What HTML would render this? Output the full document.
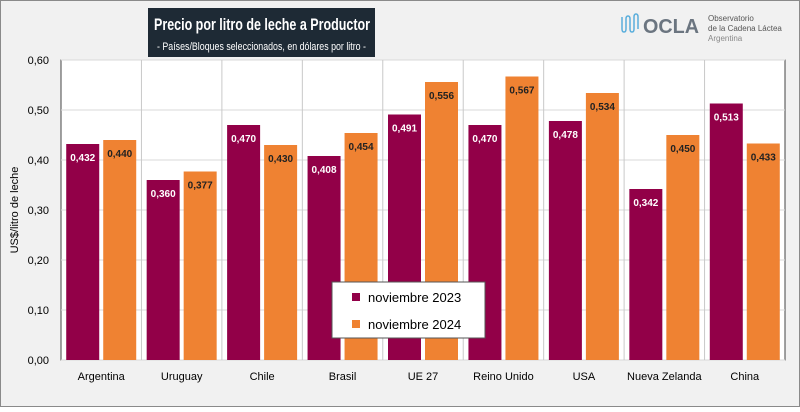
<!DOCTYPE html>
<html><head><meta charset="utf-8"><style>
body{margin:0;width:800px;height:407px;overflow:hidden;background:#fff;font-family:"Liberation Sans",sans-serif}
</style></head><body>
<svg width="800" height="407" xmlns="http://www.w3.org/2000/svg">
<rect x="0.5" y="0.5" width="799" height="406" fill="#f1f1f1" stroke="#8a8a8a"/>
<g>
<rect x="148" y="8" width="227" height="49" fill="#1e2a35"/>
<text x="154" y="30" textLength="216" lengthAdjust="spacingAndGlyphs" fill="#fff" font-size="17" font-weight="bold">Precio por litro de leche a Productor</text>
<text x="157" y="50" textLength="209" lengthAdjust="spacingAndGlyphs" fill="#fff" font-size="11">- Países/Bloques seleccionados, en dólares por litro -</text>
</g>
<g>
<path d="M622 17v12q0 3 2 3t2-3v-10q0-3 2-3t2 3v10q0 3 2 3t2-3v-12q0-3 2-3t2 3v12" fill="none" stroke="#5aaedc" stroke-width="1.5"/>
<text x="643" y="33" font-size="20" font-weight="bold" fill="#6b7580" textLength="56" lengthAdjust="spacingAndGlyphs">OCLA</text>
<text x="708" y="21" font-size="8" fill="#555">Observatorio</text>
<text x="708" y="31" font-size="8" fill="#555">de la Cadena Láctea</text>
<text x="708" y="41" font-size="8" fill="#888">Argentina</text>
</g>
<rect x="61" y="60" width="724" height="300" fill="#fff" stroke="#444"/>
<g id="grid"></g><g id="bars"></g><g id="axes"></g>
<text transform="translate(18,210) rotate(-90)" text-anchor="middle" font-size="11" fill="#000">US$/litro de leche</text>
<g>
<rect x="332" y="282" width="153" height="56" fill="#fff" stroke="#555"/>
<rect x="352" y="293" width="8" height="8" fill="#920048"/>
<text x="368" y="302" font-size="13">noviembre 2023</text>
<rect x="352" y="320" width="8" height="8" fill="#ef8232"/>
<text x="368" y="329" font-size="13">noviembre 2024</text>
</g>
</svg>
<script>
const categories=["Argentina","Uruguay","Chile","Brasil","UE 27","Reino Unido","USA","Nueva Zelanda","China"];
const values2023=[0.432,0.360,0.470,0.408,0.491,0.470,0.478,0.342,0.513];
const values2024=[0.440,0.377,0.430,0.454,0.556,0.567,0.534,0.450,0.433];
const yTicks=[0,0.1,0.2,0.3,0.4,0.5,0.6];
const NS="http://www.w3.org/2000/svg";
const X0=61,X1=785,Y0=360,Y1=60,YMAX=0.6;
const bw=(X1-X0)/categories.length;
const y=v=>Y0-(v/YMAX)*(Y0-Y1);
const fmt=v=>v.toFixed(3).replace('.',',');
function mk(t,a,p){const e=document.createElementNS(NS,t);for(const k in a)e.setAttribute(k,a[k]);p.appendChild(e);return e;}
const grid=document.getElementById('grid'),bars=document.getElementById('bars'),axes=document.getElementById('axes');
yTicks.forEach(t=>{
 const l=mk('line',{x1:X0,x2:X1,y1:y(t),y2:y(t),stroke:'#d9d9d9'},grid);
 
 
 const tx=mk('text',{x:49,y:y(t)+4,'text-anchor':'end','font-size':11},axes);
 tx.textContent=t.toFixed(2).replace('.',',');
 
 
});
categories.forEach((c,i)=>{
 const cx=X0+bw*(i+0.5);
 if(i>0){const s=mk('line',{x1:X0+bw*i,x2:X0+bw*i,y1:Y1,y2:Y0,stroke:'#c8c8c8'},grid);
 
 }
 [[values2023[i],'#920048','#fff',-35],[values2024[i],'#ef8232','#222',2]].forEach(([v,col,tc,off],k)=>{
  const r=mk('rect',{x:cx+off,y:y(v),width:33,height:Y0-y(v),fill:col},bars);
  
  
  const t=mk('text',{x:cx+off+16.5,y:y(v)+17,'text-anchor':'middle','font-size':10,'font-weight':'bold',fill:tc},bars);
  t.textContent=fmt(v);
  
  
 });
 const lt=mk('text',{x:cx,y:380,'text-anchor':'middle','font-size':11},axes);
 lt.textContent=c;
 
 
});
</script>
</body></html>
